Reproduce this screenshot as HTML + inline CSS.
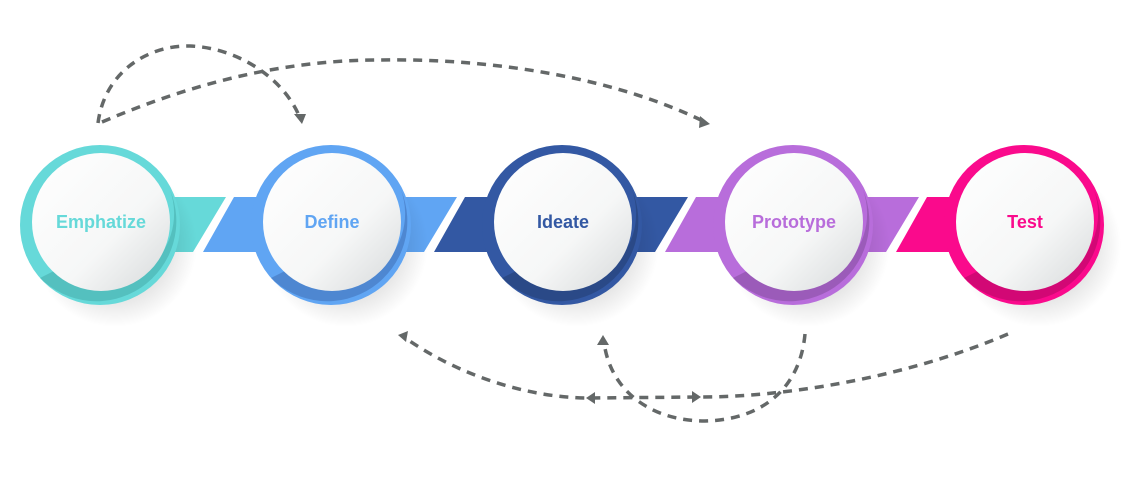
<!DOCTYPE html>
<html><head><meta charset="utf-8"><style>
html,body{margin:0;padding:0;background:#fff;}
svg{display:block;}
text{font-family:"Liberation Sans",sans-serif;font-weight:bold;font-size:18px;}
</style></head><body>
<svg width="1130" height="479" viewBox="0 0 1130 479" xmlns="http://www.w3.org/2000/svg">
<defs>
<linearGradient id="w" x1="0" y1="0" x2="1" y2="1">
<stop offset="0" stop-color="#ffffff"/><stop offset="0.6" stop-color="#f6f7f7"/><stop offset="1" stop-color="#d6d9da"/>
</linearGradient>
<radialGradient id="sh" cx="0.5" cy="0.5" r="0.5">
<stop offset="0.6" stop-color="#000" stop-opacity="0.12"/><stop offset="1" stop-color="#000" stop-opacity="0"/>
</radialGradient>
</defs>
<!-- bands -->
<polygon points="150,197 226,197 193,252 150,252" fill="#66d9d9"/>
<polygon points="234,197 290,197 290,252 203,252" fill="#60a5f3"/>
<polygon points="380,197 457,197 424,252 380,252" fill="#60a5f3"/>
<polygon points="465,197 520,197 520,252 434,252" fill="#3358a3"/>
<polygon points="610,197 688,197 655,252 610,252" fill="#3358a3"/>
<polygon points="696,197 750,197 750,252 665,252" fill="#b86ddb"/>
<polygon points="840,197 919,197 886,252 840,252" fill="#b86ddb"/>
<polygon points="927,197 980,197 980,252 896,252" fill="#fa0a8c"/>
<!-- circles -->
<g>
<circle cx="115" cy="245" r="82" fill="url(#sh)"/>
<circle cx="100" cy="225" r="80" fill="#66d9d9"/>
<path d="M170,190 A80,80 0 0 1 40,278 L60,268 A70,70 0 0 0 170,190Z" fill="#4db5b3" opacity="0.7"/>
<circle cx="101" cy="222" r="69" fill="url(#w)"/>
<text x="101" y="228" text-anchor="middle" fill="#66d9d9">Emphatize</text>
</g>
<g>
<circle cx="346" cy="245" r="82" fill="url(#sh)"/>
<circle cx="331" cy="225" r="80" fill="#60a5f3"/>
<path d="M401,190 A80,80 0 0 1 271,278 L291,268 A70,70 0 0 0 401,190Z" fill="#4a80c8" opacity="0.8"/>
<circle cx="332" cy="222" r="69" fill="url(#w)"/>
<text x="332" y="228" text-anchor="middle" fill="#60a5f3">Define</text>
</g>
<g>
<circle cx="577" cy="245" r="82" fill="url(#sh)"/>
<circle cx="562" cy="225" r="80" fill="#3358a3"/>
<path d="M632,190 A80,80 0 0 1 502,278 L522,268 A70,70 0 0 0 632,190Z" fill="#28467f" opacity="0.8"/>
<circle cx="563" cy="222" r="69" fill="url(#w)"/>
<text x="563" y="228" text-anchor="middle" fill="#3358a3">Ideate</text>
</g>
<g>
<circle cx="808" cy="245" r="82" fill="url(#sh)"/>
<circle cx="793" cy="225" r="80" fill="#b86ddb"/>
<path d="M863,190 A80,80 0 0 1 733,278 L753,268 A70,70 0 0 0 863,190Z" fill="#9456b0" opacity="0.8"/>
<circle cx="794" cy="222" r="69" fill="url(#w)"/>
<text x="794" y="228" text-anchor="middle" fill="#b86ddb">Prototype</text>
</g>
<g>
<circle cx="1039" cy="245" r="82" fill="url(#sh)"/>
<circle cx="1024" cy="225" r="80" fill="#fa0a8c"/>
<path d="M1094,190 A80,80 0 0 1 964,278 L984,268 A70,70 0 0 0 1094,190Z" fill="#c8086f" opacity="0.8"/>
<circle cx="1025" cy="222" r="69" fill="url(#w)"/>
<text x="1025" y="228" text-anchor="middle" fill="#fa0a8c">Test</text>
</g>
<!-- dashed arrows -->
<g fill="none" stroke="#646868" stroke-width="3.5" stroke-dasharray="9,7">
<path d="M98,123 C105,70 150,45 190,46 C240,48 285,80 300,118"/>
<path d="M102,122 C200,80 290,60 380,60 C500,58 620,80 705,122"/>
<path d="M805,334 C800,390 760,420 705,421 C650,421 610,390 604,342"/>
<path d="M1008,334 C900,380 780,397 700,397 L590,398 C520,398 450,370 404,337"/>
</g>
<g fill="#646868">
<polygon points="294,114 306,114 302,124"/>
<polygon points="700,116 710,124 699,128"/>
<polygon points="597,345 603,335 609,345"/>
<polygon points="408,331 398,335 406,342"/>
<polygon points="595,392 586,398 595,404"/>
<polygon points="692,391 701,397 692,403"/>
</g>
</svg>
</body></html>
